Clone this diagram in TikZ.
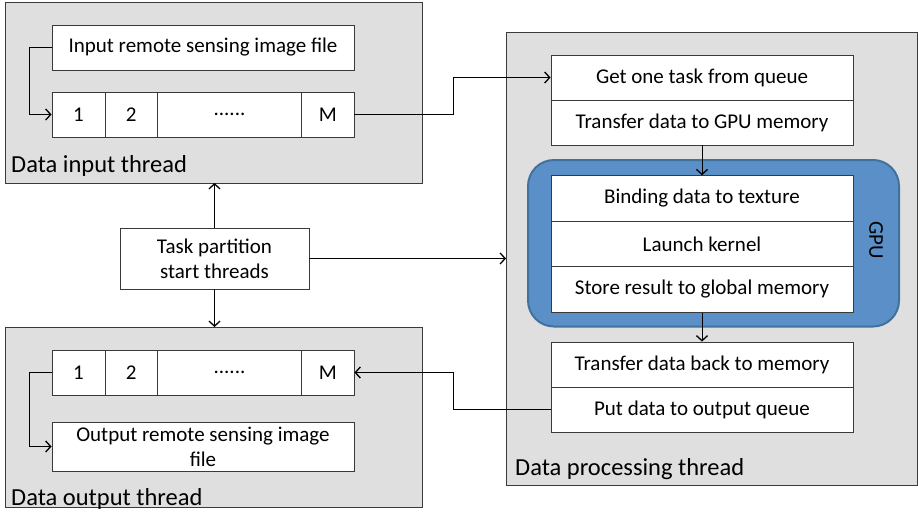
\documentclass[tikz,border=0pt]{standalone}
\usepackage{fontspec}
\setmainfont{Carlito}
\usetikzlibrary{arrows.meta}
\definecolor{panelgrey}{HTML}{DFDFDF}
\definecolor{gpufill}{HTML}{5B8FC7}
\definecolor{gpuedge}{HTML}{41719C}
\definecolor{edgegrey}{HTML}{3A3A3A}
\tikzset{
  panel/.style={draw=edgegrey, line width=1pt, fill=panelgrey},
  cell/.style={draw=edgegrey, line width=0.9pt, fill=white, inner sep=0pt,
    font=\fontsize{21}{25}\selectfont, align=center},
  paneltitle/.style={anchor=west, inner sep=0pt, font=\fontsize{24.5}{28}\selectfont},
  link/.style={draw=black, line width=0.9pt, -{Straight Barb[length=5pt,width=11pt,line width=1.3pt]}},
  plain/.style={draw=black, line width=0.9pt}
}
\begin{document}
\begin{tikzpicture}[x=1pt, y=-1pt]
\useasboundingbox (0,0) rectangle (918,517);

% thread panels
\path[panel] (5,2) rectangle (422,183);
\path[panel] (5,327) rectangle (422,507);
\path[panel] (506,32) rectangle (917,485);

\node[paneltitle] (inlabel) at (11,166) {Data input thread};
\node[paneltitle] (outlabel) at (11,499) {Data output thread};
\node[paneltitle] (proclabel) at (515,469) {Data processing thread};

% input thread
\node[cell, minimum width=302pt, minimum height=45pt] (infile) at (203,47.5) {Input remote sensing image file};
\node[cell, minimum width=53pt, minimum height=45pt] (iq1) at (78.5,114.5) {1};
\node[cell, minimum width=52.5pt, minimum height=45pt] (iq2) at (131.25,114.5) {2};
\node[cell, minimum width=144pt, minimum height=45pt] (iqd) at (229.5,114.5) {......};
\node[cell, minimum width=52.5pt, minimum height=45pt] (iqm) at (327.75,114.5) {M};

% output thread
\node[cell, minimum width=53pt, minimum height=45pt] (oq1) at (78.5,372.5) {1};
\node[cell, minimum width=52.5pt, minimum height=45pt] (oq2) at (131.25,372.5) {2};
\node[cell, minimum width=144pt, minimum height=45pt] (oqd) at (229.5,372.5) {......};
\node[cell, minimum width=52.5pt, minimum height=45pt] (oqm) at (327.75,372.5) {M};
\node[cell, minimum width=302pt, minimum height=49pt] (outfile) at (203,446.5) {Output remote sensing image\\file};

% control node
\node[cell, minimum width=189pt, minimum height=61pt] (task) at (214.5,258.5) {Task partition\\start threads};

% processing thread
\node[cell, minimum width=302pt, minimum height=45pt] (gettask) at (702,77.5) {Get one task from queue};
\node[cell, minimum width=302pt, minimum height=45pt] (togpu) at (702,122.5) {Transfer data to GPU memory};

\path[fill=gpufill, draw=gpuedge, line width=2pt, rounded corners=26pt] (528,160) rectangle (899,326.5);
\node[font=\fontsize{21}{25}\selectfont, rotate=-90] (gpu) at (876,240) {GPU};

\node[cell, minimum width=302pt, minimum height=45.5pt] (bind) at (702,198.5) {Binding data to texture};
\node[cell, minimum width=302pt, minimum height=45.5pt] (launch) at (702,244) {Launch kernel};
\node[cell, minimum width=302pt, minimum height=45.5pt] (store) at (702,289.5) {Store result to global memory};

\node[cell, minimum width=302pt, minimum height=45pt] (back) at (702,364.5) {Transfer data back to memory};
\node[cell, minimum width=302pt, minimum height=45pt] (put) at (702,409.5) {Put data to output queue};

% connectors
\coordinate (inturn) at (29,0);
\draw[link] (infile.west) -| (inturn |- iq1.west) -- (iq1.west);
\coordinate (outturn) at (29,0);
\draw[link] (oq1.west) -| (outturn |- outfile.west) -- (outfile.west);

\coordinate (midx) at (453,0);
\draw[link] (iqm.east) -| (midx |- gettask.west) -- (gettask.west);
\draw[link] (put.west) -| (midx |- oqm.east) -- (oqm.east);

\coordinate (intop) at (214.5,183);
\coordinate (outtop) at (214.5,327);
\coordinate (procleft) at (506,258.5);
\draw[link] (task.north) -- (intop);
\draw[link] (task.south) -- (outtop);
\draw[link] (task.east) -- (procleft);

\draw[link] (togpu.south) -- (bind.north);
\draw[link] (store.south) -- (back.north);
\end{tikzpicture}
\end{document}
